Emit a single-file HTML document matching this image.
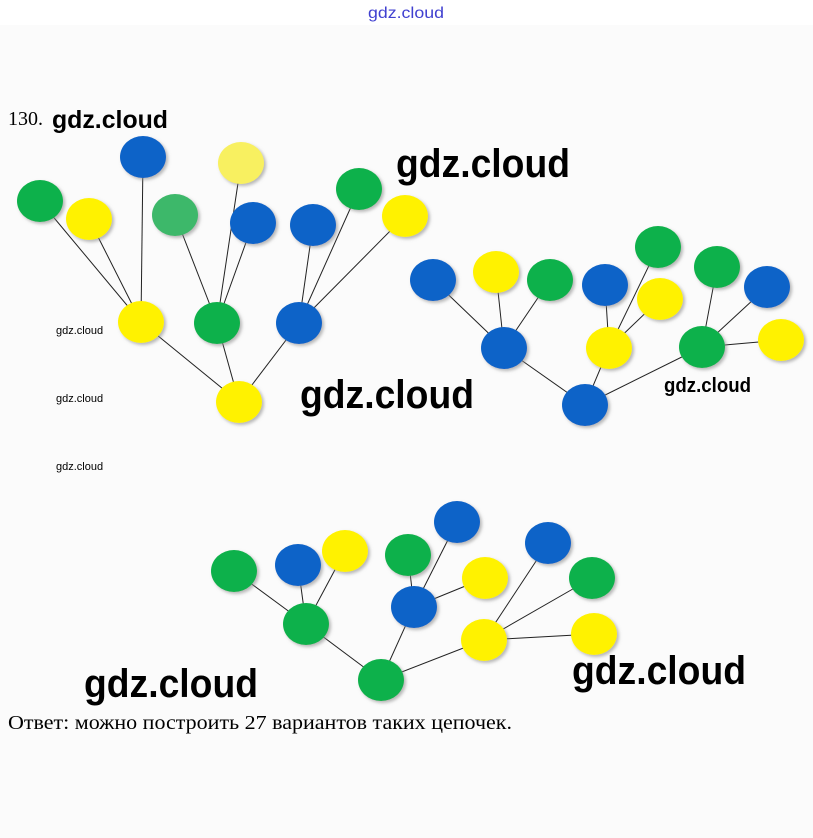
<!DOCTYPE html>
<html><head><meta charset="utf-8"><style>
body{margin:0;background:#fff;}
svg{display:block}
</style></head><body>
<svg width="813" height="838" xmlns="http://www.w3.org/2000/svg">
<rect width="813" height="838" fill="#fff"/>
<rect x="0" y="25" width="813" height="813" fill="#fbfbfb"/>
<text x="368" y="18" font-family="Liberation Sans,sans-serif" font-size="16" fill="#4040d0" textLength="76" lengthAdjust="spacingAndGlyphs">gdz.cloud</text>
<text x="8" y="125" font-family="Liberation Serif,serif" font-size="20" fill="#000">130.</text>
<g font-family="Liberation Sans,sans-serif" font-weight="bold" fill="#000">
<text x="52" y="128" font-size="25" textLength="116" lengthAdjust="spacingAndGlyphs">gdz.cloud</text>
<text x="396" y="177" font-size="40" textLength="174" lengthAdjust="spacingAndGlyphs">gdz.cloud</text>
<text x="300" y="408" font-size="40" textLength="174" lengthAdjust="spacingAndGlyphs">gdz.cloud</text>
<text x="664" y="392" font-size="20" textLength="87" lengthAdjust="spacingAndGlyphs">gdz.cloud</text>
<text x="84" y="697" font-size="40" textLength="174" lengthAdjust="spacingAndGlyphs">gdz.cloud</text>
<text x="572" y="684" font-size="40" textLength="174" lengthAdjust="spacingAndGlyphs">gdz.cloud</text>
</g>
<g font-family="Liberation Sans,sans-serif" font-size="11" fill="#000">
<text x="56" y="334">gdz.cloud</text>
<text x="56" y="402">gdz.cloud</text>
<text x="56" y="470">gdz.cloud</text>
</g>
<text x="8" y="729" font-family="Liberation Serif,serif" font-size="20" fill="#000" textLength="504" lengthAdjust="spacingAndGlyphs">Ответ: можно построить 27 вариантов таких цепочек.</text>
<g stroke="#222" stroke-width="1">
<line x1="239" y1="402" x2="141" y2="322"/><line x1="239" y1="402" x2="217" y2="323"/><line x1="239" y1="402" x2="299" y2="323"/>
<line x1="141" y1="322" x2="40" y2="201"/><line x1="141" y1="322" x2="89" y2="219"/><line x1="141" y1="322" x2="143" y2="157"/>
<line x1="217" y1="323" x2="175" y2="215"/><line x1="217" y1="323" x2="241" y2="163"/><line x1="217" y1="323" x2="253" y2="223"/>
<line x1="299" y1="323" x2="313" y2="225"/><line x1="299" y1="323" x2="359" y2="189"/><line x1="299" y1="323" x2="405" y2="216"/>
<line x1="585" y1="405" x2="504" y2="348"/><line x1="585" y1="405" x2="609" y2="348"/><line x1="585" y1="405" x2="702" y2="347"/>
<line x1="504" y1="348" x2="433" y2="280"/><line x1="504" y1="348" x2="496" y2="272"/><line x1="504" y1="348" x2="550" y2="280"/>
<line x1="609" y1="348" x2="605" y2="285"/><line x1="609" y1="348" x2="658" y2="247"/><line x1="609" y1="348" x2="660" y2="299"/>
<line x1="702" y1="347" x2="717" y2="267"/><line x1="702" y1="347" x2="767" y2="287"/><line x1="702" y1="347" x2="781" y2="340"/>
<line x1="381" y1="680" x2="306" y2="624"/><line x1="381" y1="680" x2="414" y2="607"/><line x1="381" y1="680" x2="484" y2="640"/>
<line x1="306" y1="624" x2="234" y2="571"/><line x1="306" y1="624" x2="298" y2="565"/><line x1="306" y1="624" x2="345" y2="551"/>
<line x1="414" y1="607" x2="408" y2="555"/><line x1="414" y1="607" x2="457" y2="522"/><line x1="414" y1="607" x2="485" y2="578"/>
<line x1="484" y1="640" x2="548" y2="543"/><line x1="484" y1="640" x2="592" y2="578"/><line x1="484" y1="640" x2="594" y2="634"/>
</g>
<defs>
<filter id="s" x="-20%" y="-20%" width="150%" height="150%"><feDropShadow dx="2" dy="2" stdDeviation="1.5" flood-color="#888" flood-opacity="0.6"/></filter>
</defs>
<g filter="url(#s)">
<ellipse cx="239" cy="402" rx="23" ry="21" fill="#fff200"/>
<ellipse cx="141" cy="322" rx="23" ry="21" fill="#fff200"/>
<ellipse cx="217" cy="323" rx="23" ry="21" fill="#0db14b"/>
<ellipse cx="299" cy="323" rx="23" ry="21" fill="#0a64c8"/>
<ellipse cx="40" cy="201" rx="23" ry="21" fill="#0db14b"/>
<ellipse cx="89" cy="219" rx="23" ry="21" fill="#fff200"/>
<ellipse cx="143" cy="157" rx="23" ry="21" fill="#0a64c8"/>
<ellipse cx="175" cy="215" rx="23" ry="21" fill="#3cb86a"/>
<ellipse cx="241" cy="163" rx="23" ry="21" fill="#f8f060"/>
<ellipse cx="253" cy="223" rx="23" ry="21" fill="#0a64c8"/>
<ellipse cx="313" cy="225" rx="23" ry="21" fill="#0a64c8"/>
<ellipse cx="359" cy="189" rx="23" ry="21" fill="#0db14b"/>
<ellipse cx="405" cy="216" rx="23" ry="21" fill="#fff200"/>
<ellipse cx="585" cy="405" rx="23" ry="21" fill="#0a64c8"/>
<ellipse cx="504" cy="348" rx="23" ry="21" fill="#0a64c8"/>
<ellipse cx="609" cy="348" rx="23" ry="21" fill="#fff200"/>
<ellipse cx="702" cy="347" rx="23" ry="21" fill="#0db14b"/>
<ellipse cx="433" cy="280" rx="23" ry="21" fill="#0a64c8"/>
<ellipse cx="496" cy="272" rx="23" ry="21" fill="#fff200"/>
<ellipse cx="550" cy="280" rx="23" ry="21" fill="#0db14b"/>
<ellipse cx="605" cy="285" rx="23" ry="21" fill="#0a64c8"/>
<ellipse cx="658" cy="247" rx="23" ry="21" fill="#0db14b"/>
<ellipse cx="660" cy="299" rx="23" ry="21" fill="#fff200"/>
<ellipse cx="717" cy="267" rx="23" ry="21" fill="#0db14b"/>
<ellipse cx="767" cy="287" rx="23" ry="21" fill="#0a64c8"/>
<ellipse cx="781" cy="340" rx="23" ry="21" fill="#fff200"/>
<ellipse cx="381" cy="680" rx="23" ry="21" fill="#0db14b"/>
<ellipse cx="306" cy="624" rx="23" ry="21" fill="#0db14b"/>
<ellipse cx="414" cy="607" rx="23" ry="21" fill="#0a64c8"/>
<ellipse cx="484" cy="640" rx="23" ry="21" fill="#fff200"/>
<ellipse cx="234" cy="571" rx="23" ry="21" fill="#0db14b"/>
<ellipse cx="298" cy="565" rx="23" ry="21" fill="#0a64c8"/>
<ellipse cx="345" cy="551" rx="23" ry="21" fill="#fff200"/>
<ellipse cx="408" cy="555" rx="23" ry="21" fill="#0db14b"/>
<ellipse cx="457" cy="522" rx="23" ry="21" fill="#0a64c8"/>
<ellipse cx="485" cy="578" rx="23" ry="21" fill="#fff200"/>
<ellipse cx="548" cy="543" rx="23" ry="21" fill="#0a64c8"/>
<ellipse cx="592" cy="578" rx="23" ry="21" fill="#0db14b"/>
<ellipse cx="594" cy="634" rx="23" ry="21" fill="#fff200"/>
</g>
</svg>
</body></html>
